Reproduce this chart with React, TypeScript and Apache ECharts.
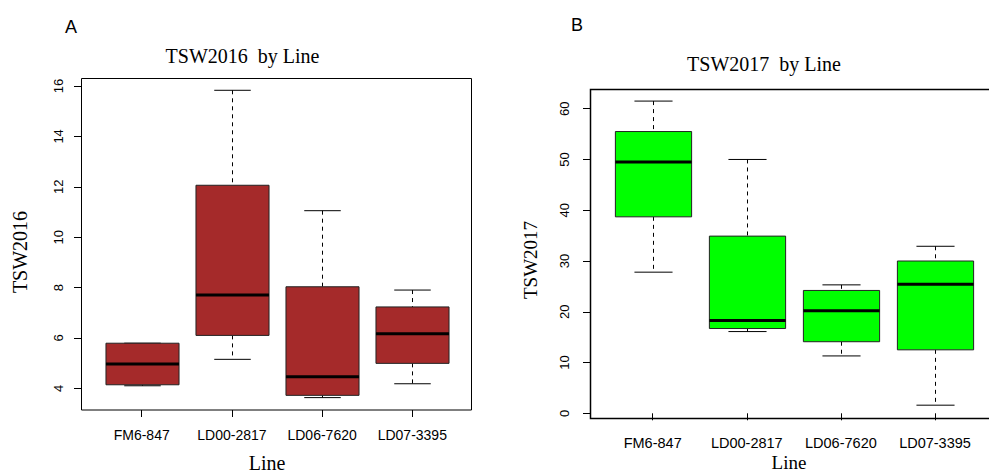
import React, { useEffect, useRef } from 'react';
import * as echarts from 'echarts';

const categories = ['FM6-847', 'LD00-2817', 'LD06-7620', 'LD07-3395'];
// [min, q1, median, q3, max]
const tsw2016 = [
  [4.1, 4.14, 4.96, 5.79, 5.79],
  [5.15, 6.1, 7.7, 12.06, 15.83],
  [3.63, 3.72, 4.46, 8.03, 11.05],
  [4.18, 4.99, 6.17, 7.23, 7.9],
];
const tsw2017 = [
  [27.8, 38.7, 49.5, 55.5, 61.5],
  [16.1, 16.7, 18.3, 34.9, 50.0],
  [11.3, 14.1, 20.2, 24.2, 25.3],
  [1.6, 12.5, 25.4, 30.0, 32.9],
];
const ticks2016 = [4, 6, 8, 10, 12, 14, 16];
const ticks2017 = [0, 10, 20, 30, 40, 50, 60];

const SANS = '"Liberation Sans", Arial, sans-serif';
const SERIF = '"Liberation Serif", "Times New Roman", serif';

function boxRender(fill: string) {
  return (params: any, api: any) => {
    const idx = api.value(0);
    const band = api.size([1, 0])[0];
    const bw = band * 0.81;
    const cw = bw / 2;
    const pMin = api.coord([idx, api.value(1)]);
    const pQ1 = api.coord([idx, api.value(2)]);
    const pMed = api.coord([idx, api.value(3)]);
    const pQ3 = api.coord([idx, api.value(4)]);
    const pMax = api.coord([idx, api.value(5)]);
    const cx = Math.round(pMin[0]) + 0.5;
    const dash = { stroke: '#000', lineWidth: 1, lineDash: [4, 4] };
    const solid = { stroke: '#000', lineWidth: 1 };
    return {
      type: 'group',
      children: [
        { type: 'line', shape: { x1: cx, y1: pMax[1], x2: cx, y2: pQ3[1] }, style: dash },
        { type: 'line', shape: { x1: cx, y1: pQ1[1], x2: cx, y2: pMin[1] }, style: dash },
        { type: 'line', shape: { x1: cx - cw / 2, y1: pMax[1], x2: cx + cw / 2, y2: pMax[1] }, style: solid },
        { type: 'line', shape: { x1: cx - cw / 2, y1: pMin[1], x2: cx + cw / 2, y2: pMin[1] }, style: solid },
        {
          type: 'rect',
          shape: { x: cx - bw / 2, y: pQ3[1], width: bw, height: pQ1[1] - pQ3[1] },
          style: { fill, stroke: '#222', lineWidth: 1 },
        },
        {
          type: 'line',
          shape: { x1: cx - bw / 2, y1: pMed[1], x2: cx + bw / 2, y2: pMed[1] },
          style: { stroke: '#000', lineWidth: 3 },
        },
      ],
    };
  };
}

function txt(text: string, x: number, y: number, size: number, family: string, rotation = 0) {
  return {
    type: 'text',
    x,
    y,
    rotation,
    style: {
      text,
      fontSize: size,
      fontFamily: family,
      fill: '#000',
      textAlign: 'center',
      textVerticalAlign: 'middle',
      align: 'center',
      verticalAlign: 'middle',
    },
  };
}

export default function App() {
  const ref = useRef<HTMLDivElement>(null);
  useEffect(() => {
    if (!ref.current) return;
    const chart = echarts.init(ref.current, undefined, { renderer: 'svg' });
    const yAxisCommon = (min: number, max: number, interval: number, offset: number, margin: number) => ({
      type: 'value',
      min,
      max,
      interval,
      offset,
      axisLine: { show: false },
      splitLine: { show: false },
      axisTick: { show: true, length: 7, lineStyle: { color: '#000' } },
      axisLabel: { rotate: 90, fontSize: 13, fontFamily: SANS, color: '#000', margin },
    });
    const xAxisCommon = (gridIndex: number, offset: number, margin: number, fontSize: number) => ({
      gridIndex,
      type: 'category',
      data: categories,
      boundaryGap: true,
      offset,
      axisLine: { show: false },
      axisTick: { show: true, alignWithLabel: true, length: 7, lineStyle: { color: '#000' } },
      axisLabel: { fontSize, fontFamily: SANS, color: '#000', margin, interval: 0 },
    });
    chart.setOption({
      animation: false,
      backgroundColor: '#fff',
      grid: [
        { left: 96.6, top: 86, width: 360.8, height: 302.3 },
        { left: 605.65, top: 108.7, width: 376.4, height: 304.6 },
      ],
      xAxis: [xAxisCommon(0, 21.7, 18, 14), xAxisCommon(1, 5, 17, 14.5)],
      yAxis: [
        { gridIndex: 0, ...yAxisCommon(ticks2016[0], ticks2016[ticks2016.length - 1], ticks2016[1] - ticks2016[0], 15.6, 16) },
        { gridIndex: 1, ...yAxisCommon(ticks2017[0], ticks2017[ticks2017.length - 1], ticks2017[1] - ticks2017[0], 15.65, 19) },
      ],
      series: [
        {
          type: 'custom',
          xAxisIndex: 0,
          yAxisIndex: 0,
          renderItem: boxRender('#A52A2A'),
          encode: { x: 0, y: [1, 2, 3, 4, 5] },
          data: tsw2016.map((d, i) => [i, ...d]),
          clip: false,
        },
        {
          type: 'custom',
          xAxisIndex: 1,
          yAxisIndex: 1,
          renderItem: boxRender('#00FF00'),
          encode: { x: 0, y: [1, 2, 3, 4, 5] },
          data: tsw2017.map((d, i) => [i, ...d]),
          clip: false,
        },
      ],
      graphic: [
        {
          type: 'rect',
          shape: { x: 81.5, y: 78.5, width: 390, height: 331.5 },
          style: { fill: 'none', stroke: '#000', lineWidth: 1 },
          z: 10,
        },
        {
          type: 'rect',
          shape: { x: 590.5, y: 89.5, width: 420, height: 329 },
          style: { fill: 'none', stroke: '#000', lineWidth: 1.5 },
          z: 10,
        },
        txt('A', 71, 26.5, 18, SANS),
        txt('B', 577, 25, 18, SANS),
        txt('TSW2016  by Line', 242.5, 55.5, 20, SERIF),
        txt('TSW2017  by Line', 764, 63.5, 20, SERIF),
        txt('TSW2016', 20, 252, 20, SERIF, Math.PI / 2),
        txt('TSW2017', 530, 260, 19, SERIF, Math.PI / 2),
        txt('Line', 267, 462.5, 20, SERIF),
        txt('Line', 789, 462.5, 19, SERIF),
      ],
    });
    return () => chart.dispose();
  }, []);
  return (
    <div
      ref={ref}
      style={{ position: 'fixed', left: 0, top: 0, width: 989, height: 473, background: '#fff' }}
    />
  );
}
